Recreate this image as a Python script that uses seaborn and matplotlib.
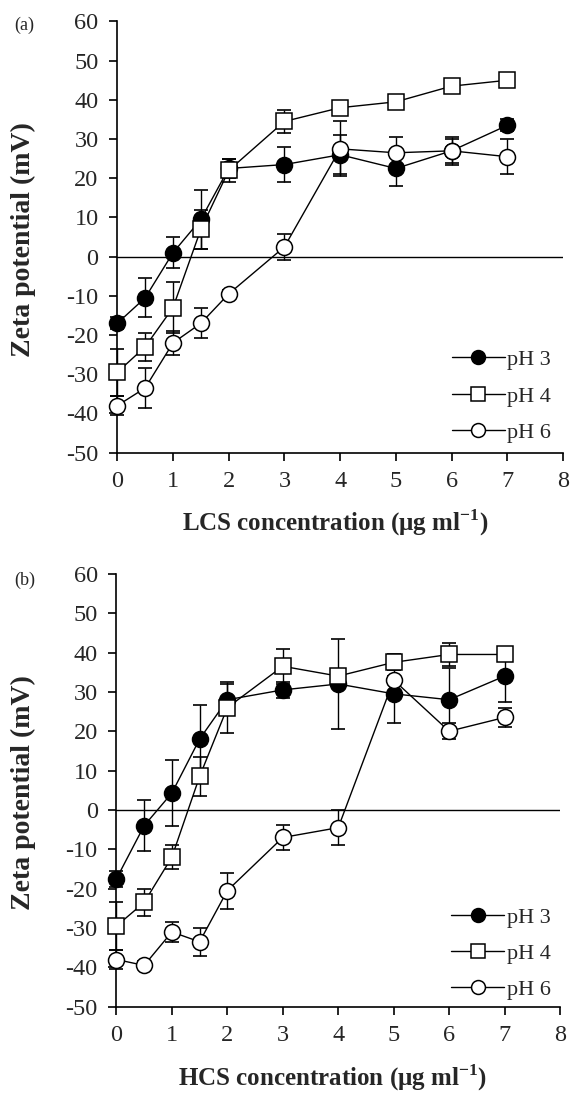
import numpy as np
import pandas as pd
import seaborn as sns
import matplotlib.pyplot as plt
from matplotlib.lines import Line2D

# concentrations (ug/ml)
conc = [0, 0.5, 1, 1.5, 2, 3, 4, 5, 6, 7]
series_names = ['pH 3', 'pH 4', 'pH 6']

# (a) LCS
lcs_ph3 = [-17, -10.5, 1, 9.5, 22.5, 23.5, 26, 22.5, 27, 33.5]
lcs_ph3_err = [1.5, 5, 4, 7.5, 2.5, 4.5, 5, 4.5, 3, 1.5]
lcs_ph4 = [-29.5, -23, -13, 7, 22, 34.5, 38, 39.5, 43.5, 45]
lcs_ph4_err = [6, 3.5, 6.5, 5, 3, 3, 1, 1, 1, 1]
lcs_ph6 = [-38, -33.5, -22, -17, -9.5, 2.5, 27.5, 26.5, 27, 25.5]
lcs_ph6_err = [2.5, 5, 3, 3.8, 1, 3.4, 7, 4, 3.5, 4.5]

# (b) HCS
hcs_ph3 = [-17.5, -4, 4.3, 18, 28, 30.5, 32, 29.5, 28, 34]
hcs_ph3_err = [2, 6.5, 8.3, 8.7, 4, 2, 11.5, 7.5, 8, 6.5]
hcs_ph4 = [-29.5, -23.5, -12, 8.5, 26, 36.5, 34, 37.5, 39.5, 39.5]
hcs_ph4_err = [6, 3.5, 3, 5, 6.5, 4.5, 1.5, 2, 3, 1]
hcs_ph6 = [-38, -39.5, -31, -33.5, -20.5, -7, -4.5, 33, 20, 23.5]
hcs_ph6_err = [2.5, 1, 2.5, 3.6, 4.6, 3.3, 4.5, 1, 2, 2.5]

yticks = list(range(-50, 61, 10))
xticks = list(range(0, 9))


def make_df(vals, errs):
    frames = []
    for name, v, e in zip(series_names, vals, errs):
        frames.append(pd.DataFrame({'conc': conc, 'zeta': v, 'err': e, 'series': name}))
    return pd.concat(frames, ignore_index=True)


df_a = make_df([lcs_ph3, lcs_ph4, lcs_ph6], [lcs_ph3_err, lcs_ph4_err, lcs_ph6_err])
df_b = make_df([hcs_ph3, hcs_ph4, hcs_ph6], [hcs_ph3_err, hcs_ph4_err, hcs_ph6_err])

sns.set_style('ticks')
plt.rcParams['font.family'] = ['Liberation Serif', 'DejaVu Serif']
plt.rcParams['axes.unicode_minus'] = False
plt.rcParams['mathtext.fontset'] = 'custom'
plt.rcParams['mathtext.rm'] = 'Liberation Serif'
plt.rcParams['mathtext.bf'] = 'Liberation Serif:bold'

styles = {'pH 3': ('o', 'black'), 'pH 4': ('s', 'white'), 'pH 6': ('o', 'white')}


def draw_panel(ax, df, xlabel, legend_anchor):
    ax.axhline(0, color='black', lw=1, zorder=1)
    handles = []
    for i, name in enumerate(series_names):
        sub = df[df['series'] == name]
        mk, fc = styles[name]
        ax.errorbar(sub['conc'], sub['zeta'], yerr=sub['err'], fmt='none', ecolor='black',
                    elinewidth=1, capsize=5, capthick=1.2, zorder=2, clip_on=False)
        sns.lineplot(data=sub, x='conc', y='zeta', ax=ax, color='black', lw=1, marker=mk,
                     markersize=11.5, markerfacecolor=fc, markeredgecolor='black',
                     markeredgewidth=1.1, zorder=3 + i * 0.1, clip_on=False)
        handles.append(Line2D([0], [0], color='black', lw=1, marker=mk, markersize=10,
                              markerfacecolor=fc, markeredgecolor='black', markeredgewidth=1.1))
    ax.set_xlim(0, 8)
    ax.set_ylim(-50, 60)
    ax.set_xticks(xticks)
    ax.set_yticks(yticks)
    ax.tick_params(labelsize=17.5, length=5.5, width=1.2, pad=8, color='black')
    for s in ['top', 'right']:
        ax.spines[s].set_visible(False)
    for s in ['left', 'bottom']:
        ax.spines[s].set_linewidth(1.2)
        ax.spines[s].set_color('black')
    ax.set_xlabel(xlabel, fontsize=18, fontweight='bold')
    ax.xaxis.set_label_coords(0.488, -0.128)
    ax.xaxis.label.set_va('top')
    ax.set_ylabel('Zeta potential (mV)', fontsize=20, fontweight='bold')
    ax.yaxis.set_label_coords(-0.182, 0.494)
    ax.legend(handles, series_names, loc='upper left', bbox_to_anchor=legend_anchor,
              bbox_transform=fig.transFigure, frameon=False, fontsize=16, borderpad=0,
              borderaxespad=0, handlelength=2.4, handletextpad=0.1, labelspacing=0.71,
              numpoints=1)


fig = plt.figure(figsize=(5.71, 10.95), dpi=100)
ax_a = fig.add_axes([0.2054, 0.5866, 0.7806, 0.3938])
ax_b = fig.add_axes([0.2039, 0.0806, 0.7769, 0.3954])

draw_panel(ax_a, df_a, 'LCS concentration (μg ml$^{\\mathbf{-1}}$)', (0.791, 0.6807))
draw_panel(ax_b, df_b, 'HCS concentration (μg ml$^{\\mathbf{-1}}$)', (0.790, 0.1717))

fig.text(24 / 571, 1 - 25.8 / 1095, '(a)', fontsize=13, ha='center', va='center')
fig.text(24.7 / 571, 1 - 580 / 1095, '(b)', fontsize=13, ha='center', va='center')

fig.savefig('out.png', dpi=100)
